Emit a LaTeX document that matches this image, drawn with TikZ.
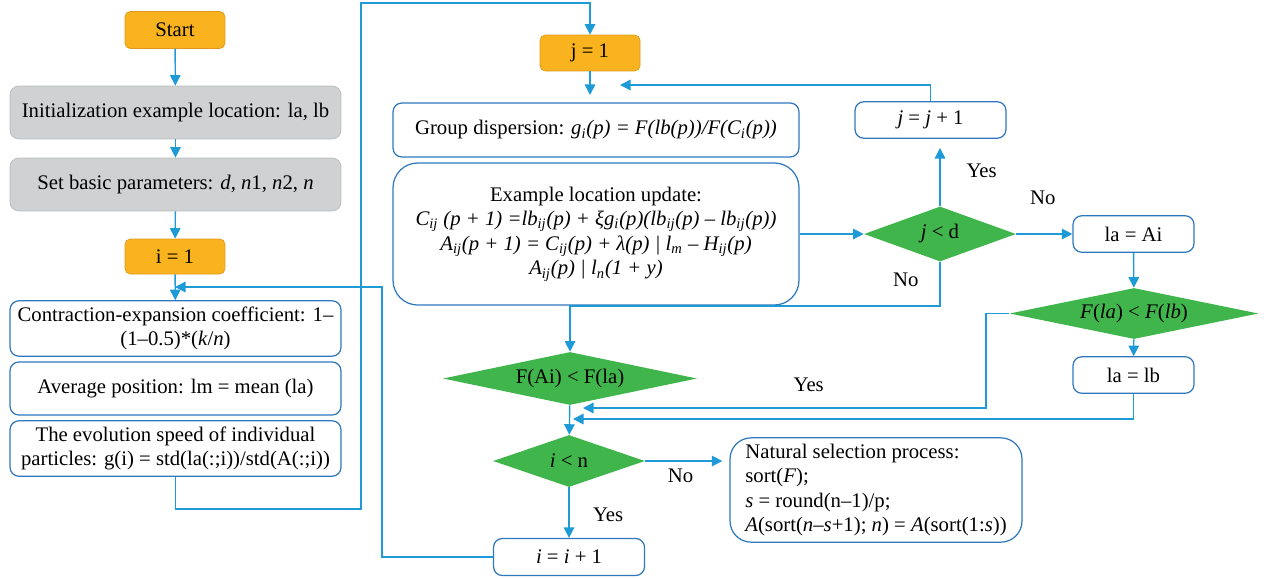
\documentclass[tikz,border=0pt]{standalone}
\usepackage{fontspec}
\setmainfont{Liberation Serif}
\usetikzlibrary{shapes.geometric,arrows.meta}

\definecolor{flowblue}{HTML}{1E9BD7}
\definecolor{boxblue}{HTML}{2F78BE}
\definecolor{startorange}{HTML}{F8B31E}
\definecolor{edgeorange}{HTML}{E0981C}
\definecolor{initgray}{HTML}{D0D1D3}
\definecolor{edgegray}{HTML}{B9BABC}
\definecolor{testgreen}{HTML}{3FB54B}

\tikzset{
  startbox/.style={draw=edgeorange, fill=startorange, rounded corners=3pt, minimum width=2cm, minimum height=0.74cm},
  initbox/.style={draw=edgegray, fill=initgray, rounded corners=5pt, minimum width=6.62cm, minimum height=1.06cm},
  procbox/.style={draw=boxblue, fill=white, rounded corners=5pt, line width=0.7pt, align=center},
  widebox/.style={procbox, minimum width=6.62cm, minimum height=1.06cm},
  smallbox/.style={procbox, minimum width=3.02cm, minimum height=0.73cm},
  testbox/.style={diamond, fill=testgreen, inner sep=0pt, aspect=5},
  flow/.style={draw=flowblue, line width=0.8pt, -{Triangle[length=6pt,width=6pt]}},
}

\begin{document}
\begin{tikzpicture}[x=0.02cm, y=-0.02cm, font=\fontsize{11.8}{14}\selectfont]
  \useasboundingbox (0,0) rectangle (1266,578);

  % left column
  \node[startbox] (start) at (175,30) {Start};
  \node[initbox] (init) at (175.5,112.5) {Initialization example location: la, lb};
  \node[initbox] (param) at (175.5,184.5) {Set basic parameters: \textit{d}, \textit{n}1, \textit{n}2, \textit{n}};
  \node[startbox, minimum height=0.7cm] (ione) at (175,256.5) {i = 1};
  \node[widebox] (coef) at (175.5,328.5) {Contraction-expansion coefficient: 1–\\(1–0.5)*(\textit{k}/\textit{n})};
  \node[widebox] (mean) at (175.5,388.5) {Average position: lm = mean (la)};
  \node[widebox] (speed) at (175.5,448.5) {The evolution speed of individual\\particles: g(i) = std(la(:;i))/std(A(:;i))};

  % middle column
  \node[startbox, minimum height=0.72cm] (jone) at (590,53) {j = 1};
  \node[procbox, minimum width=8.12cm, minimum height=1.08cm] (disp) at (596,130)
    {Group dispersion: \textit{g\textsubscript{i}(p) = F(lb(p))/F(C\textsubscript{i}(p))}};
  \node[procbox, minimum width=8.12cm, minimum height=2.84cm, rounded corners=14pt] (update) at (596,234)
    {Example location update:\\
     \textit{C\textsubscript{ij} (p + 1) =lb\textsubscript{ij}(p) + ξg\textsubscript{i}(p)(lb\textsubscript{ij}(p) – lb\textsubscript{ij}(p))}\\
     \textit{A\textsubscript{ij}(p + 1) = C\textsubscript{ij}(p) + λ(p) | l\textsubscript{m} – H\textsubscript{ij}(p)}\\
     \textit{A\textsubscript{ij}(p) | l\textsubscript{n}(1 + y)}};
  \node[testbox, minimum width=5.08cm, minimum height=1.06cm] (faila) at (570,378.5) {F(Ai) < F(la)};
  \node[testbox, minimum width=3.04cm, minimum height=1.04cm] (iln) at (569,461) {\textit{i} < n};
  \node[smallbox, minimum height=0.74cm] (iinc) at (569,557) {\textit{i} = \textit{i} + 1};
  \node[procbox, minimum width=5.84cm, minimum height=2.08cm, rounded corners=12pt, align=left] (select) at (876,490)
    {Natural selection process:\\
     sort(\textit{F});\\
     \textit{s} = round(n–1)/p;\\
     \textit{A}(sort(\textit{n}–\textit{s}+1); \textit{n}) = \textit{A}(sort(1:\textit{s}))};

  % right column
  \node[smallbox] (jinc) at (930.5,120) {\textit{j} = \textit{j} + 1};
  \node[testbox, minimum width=3.04cm, minimum height=1.1cm] (jd) at (940,234) {\textit{j} < d};
  \node[smallbox, minimum width=2.42cm] (laai) at (1133.5,234) {la = Ai};
  \node[testbox, minimum width=4.98cm, minimum height=1.02cm] (flalb) at (1134,313.5) {\textit{F}(\textit{la}) < \textit{F}(\textit{lb})};
  \node[smallbox, minimum width=2.42cm] (lalb) at (1133.5,375) {la = lb};

  % turning points
  \coordinate (iback) at (175,287);
  \coordinate (iturn) at (382,287);
  \coordinate (sdown) at (361,509);
  \coordinate (stop) at (361,3);
  \coordinate (jdown) at (590,95);
  \coordinate (jback) at (620,85);
  \coordinate (jyes) at (940,148);
  \coordinate (jno) at (570,306);
  \coordinate (fturn) at (986,408);
  \coordinate (yesin) at (583,408);
  \coordinate (lbin) at (573,419);

  \draw[flow] (start) -- (init);
  \draw[flow] (init) -- (param);
  \draw[flow] (param) -- (ione);
  \draw[flow] (ione) -- (coef);
  \draw[flow] (iinc) -| (iturn) -- (iback);
  \draw[flow] (speed) |- (sdown) -- (stop) -| (jone);
  \draw[flow] (jone) -- (jdown);
  \draw[flow] (jinc) |- (jback);
  \draw[flow] (update) -- (jd);
  \draw[flow] (jd) -- node[pos=0.6, right=0.4cm] {Yes} (jyes);
  \draw[flow] (jd) -- node[pos=0.47, above=0.45cm] {No} (laai);
  \draw[flow] (jd) |- node[pos=0.2, left=0.3cm] {No} (jno) -- (faila);
  \draw[flow] (laai) -- (flalb);
  \draw[flow] (flalb) -- (lalb);
  \draw[flow] (flalb.west) -| (fturn) -- node[pos=0.44, above=0.2cm] {Yes} (yesin);
  \draw[flow] (lalb) |- (lbin);
  \draw[flow] (faila) -- (iln);
  \draw[flow, shorten >=4pt] (iln.east) -- node[pos=0.42, below=1pt] {No} (iln.east -| select.west);
  \draw[flow] (iln) -- node[pos=0.55, right=0.35cm] {Yes} (iinc);
\end{tikzpicture}
\end{document}
